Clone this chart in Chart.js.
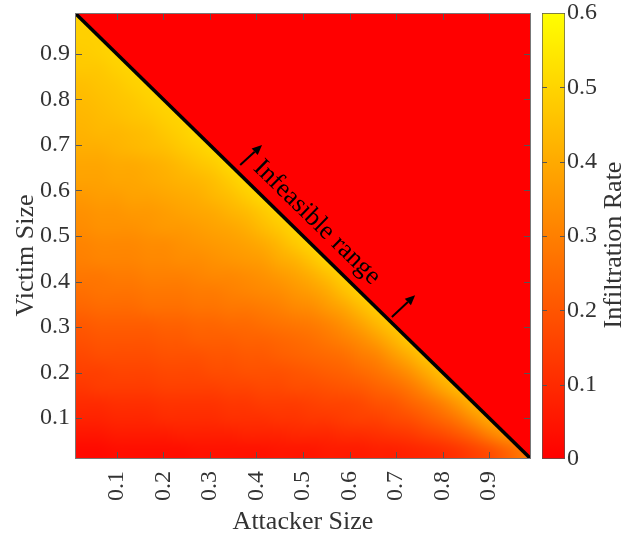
<!DOCTYPE html>
<html><head><meta charset="utf-8">
<script src="https://cdn.jsdelivr.net/npm/chart.js@4.4.1/dist/chart.umd.min.js"></script>
<style>
html,body{margin:0;padding:0;background:#fff;}
#wrap{position:relative;width:628px;height:541px;overflow:hidden;}
#main{position:absolute;left:0;top:0;}
#cbar{position:absolute;left:531px;top:0;}
</style></head><body>
<div id="wrap">
<canvas id="main" width="540" height="541"></canvas>
<canvas id="cbar" width="97" height="541"></canvas>
</div>
<script>
// ---- data (cell centres, 0.035 wide, spanning 0.01 .. 0.99) ----
const attackerSize = [0.0275,0.0625,0.0975,0.1325,0.1675,0.2025,0.2375,0.2725,0.3075,0.3425,0.3775,0.4125,0.4475,0.4825,0.5175,0.5525,0.5875,0.6225,0.6575,0.6925,0.7275,0.7625,0.7975,0.8325,0.8675,0.9025,0.9375,0.9725];
const victimSize   = [0.0275,0.0625,0.0975,0.1325,0.1675,0.2025,0.2375,0.2725,0.3075,0.3425,0.3775,0.4125,0.4475,0.4825,0.5175,0.5525,0.5875,0.6225,0.6575,0.6925,0.7275,0.7625,0.7975,0.8325,0.8675,0.9025,0.9375,0.9725];
// infiltration rate, one row per victim size (feasible part only: attacker + victim <= 1)
const infiltrationRate = [
 [0.02,0.02,0.03,0.03,0.03,0.03,0.03,0.04,0.04,0.04,0.04,0.04,0.05,0.05,0.05,0.06,0.06,0.06,0.07,0.07,0.08,0.09,0.10,0.12,0.15,0.18,0.23,0.28],
 [0.05,0.05,0.06,0.06,0.06,0.06,0.07,0.07,0.07,0.07,0.08,0.08,0.08,0.09,0.09,0.09,0.10,0.10,0.11,0.12,0.13,0.15,0.17,0.20,0.24,0.30,0.35],
 [0.08,0.08,0.09,0.09,0.09,0.10,0.10,0.10,0.10,0.11,0.11,0.11,0.12,0.12,0.13,0.13,0.14,0.15,0.15,0.17,0.18,0.21,0.24,0.28,0.34,0.40],
 [0.10,0.10,0.11,0.11,0.11,0.12,0.12,0.12,0.12,0.13,0.13,0.14,0.14,0.14,0.15,0.16,0.16,0.17,0.19,0.20,0.23,0.26,0.30,0.36,0.42],
 [0.13,0.14,0.14,0.14,0.14,0.15,0.15,0.15,0.15,0.16,0.16,0.17,0.17,0.18,0.18,0.19,0.20,0.21,0.23,0.25,0.28,0.33,0.39,0.44],
 [0.15,0.15,0.16,0.16,0.16,0.17,0.17,0.17,0.18,0.18,0.19,0.19,0.19,0.20,0.21,0.22,0.23,0.25,0.27,0.30,0.34,0.40,0.45],
 [0.17,0.18,0.18,0.18,0.18,0.19,0.19,0.19,0.20,0.20,0.21,0.21,0.22,0.23,0.24,0.25,0.26,0.29,0.31,0.36,0.41,0.46],
 [0.19,0.20,0.20,0.20,0.20,0.21,0.21,0.22,0.22,0.22,0.23,0.23,0.24,0.25,0.26,0.28,0.30,0.33,0.37,0.42,0.47],
 [0.21,0.22,0.22,0.22,0.22,0.23,0.23,0.24,0.24,0.25,0.25,0.26,0.27,0.28,0.29,0.31,0.34,0.38,0.43,0.47],
 [0.24,0.25,0.25,0.25,0.26,0.26,0.26,0.27,0.27,0.28,0.28,0.29,0.30,0.32,0.33,0.36,0.39,0.44,0.48],
 [0.26,0.27,0.27,0.27,0.28,0.28,0.28,0.29,0.29,0.30,0.31,0.32,0.33,0.35,0.37,0.40,0.45,0.49],
 [0.28,0.28,0.29,0.29,0.30,0.30,0.30,0.31,0.32,0.32,0.33,0.34,0.36,0.38,0.41,0.45,0.49],
 [0.30,0.31,0.31,0.31,0.32,0.32,0.33,0.33,0.34,0.35,0.36,0.37,0.40,0.42,0.46,0.50],
 [0.31,0.32,0.32,0.32,0.33,0.33,0.34,0.35,0.36,0.37,0.38,0.40,0.43,0.47,0.50],
 [0.33,0.34,0.34,0.34,0.35,0.36,0.36,0.37,0.38,0.39,0.41,0.44,0.47,0.50],
 [0.34,0.35,0.35,0.36,0.36,0.37,0.38,0.39,0.40,0.42,0.44,0.47,0.50],
 [0.36,0.37,0.37,0.38,0.38,0.39,0.40,0.41,0.43,0.45,0.48,0.51],
 [0.38,0.38,0.39,0.39,0.40,0.41,0.42,0.43,0.45,0.48,0.51],
 [0.39,0.39,0.40,0.40,0.41,0.42,0.44,0.46,0.48,0.51],
 [0.41,0.41,0.42,0.43,0.44,0.45,0.47,0.49,0.51],
 [0.42,0.43,0.43,0.44,0.45,0.47,0.49,0.51],
 [0.43,0.44,0.45,0.46,0.47,0.49,0.50],
 [0.44,0.45,0.46,0.47,0.49,0.50],
 [0.45,0.46,0.47,0.49,0.50],
 [0.47,0.47,0.49,0.50],
 [0.48,0.49,0.50],
 [0.49,0.49],
 [0.49]
];
const infeasibleValue = 0;
const boundaryAttacker = [0.01, 0.99];   // attacker + victim = 1
const boundaryVictim   = [0.99, 0.01];
const xTicks = [0.1,0.2,0.3,0.4,0.5,0.6,0.7,0.8,0.9];
const yTicks = [0.1,0.2,0.3,0.4,0.5,0.6,0.7,0.8,0.9];
const cbTicks = [0,0.1,0.2,0.3,0.4,0.5,0.6];
const rateRange = [0, 0.6];
const noteText = 'Infeasible range';
const notePos = [0.53, 0.53];
const arrowFrom = [[0.365,0.656],[0.691,0.322]];
const arrowTo   = [[0.412,0.700],[0.741,0.370]];

// ---- helpers ----
const SERIF = '"Liberation Serif","Times New Roman",serif';
function rateT(v){ return Math.max(0, Math.min(1, (v - rateRange[0]) / (rateRange[1] - rateRange[0]))); }
function rateColor(v){ return 'rgb(255,' + Math.round(255 * rateT(v)) + ',0)'; }
const fmt = v => (v === 0 ? '0' : v.toFixed(1));
function zeroPad(s){ s.paddingTop = 0; s.paddingBottom = 0; s.paddingLeft = 0; s.paddingRight = 0; }

const cells = [];
infiltrationRate.forEach((row, j) => row.forEach((v, i) => cells.push({x: attackerSize[i], y: victimSize[j], v: v})));
const step = attackerSize[1] - attackerSize[0];

// shading: the heat-map cells are redrawn with smooth (interpolated) shading, like shading interp
const smoothHeat = {
  id: 'smoothHeat',
  afterDatasetDraw(chart, args) {
    if (args.index !== 1) return;
    const {ctx, chartArea: a, scales: {x, y}} = chart;
    const nx = attackerSize.length, ny = victimSize.length;
    const off = document.createElement('canvas');
    off.width = nx + 2; off.height = ny + 2;
    const octx = off.getContext('2d');
    const img = octx.createImageData(nx + 2, ny + 2);
    for (let r = 0; r < ny + 2; r++) {
      const j = Math.min(ny - 1, Math.max(0, ny - r));        // image row r -> victim index
      const row = infiltrationRate[j];
      for (let c = 0; c < nx + 2; c++) {
        const i = Math.min(nx - 1, Math.max(0, c - 1));
        const v = i < row.length ? row[i] : row[row.length - 1];
        const p = (r * (nx + 2) + c) * 4;
        img.data[p] = 255; img.data[p + 1] = Math.round(255 * rateT(v)); img.data[p + 2] = 0; img.data[p + 3] = 255;
      }
    }
    octx.putImageData(img, 0, 0);
    const cw = x.getPixelForValue(attackerSize[1]) - x.getPixelForValue(attackerSize[0]);
    const ch = y.getPixelForValue(victimSize[0]) - y.getPixelForValue(victimSize[1]);
    const dx = x.getPixelForValue(attackerSize[0]) - cw / 2;
    const dy = y.getPixelForValue(victimSize[ny - 1]) - ch / 2;
    ctx.save();
    ctx.beginPath(); ctx.rect(a.left, a.top, a.right - a.left, a.bottom - a.top); ctx.clip();
    ctx.imageSmoothingEnabled = true; ctx.imageSmoothingQuality = 'high';
    ctx.drawImage(off, 1, 1, nx, ny, dx, dy, cw * nx, ch * ny);
    ctx.restore();
  }
};

const frameTicks = {
  id: 'frameTicks',
  afterDatasetsDraw(chart) {
    const {ctx, chartArea: a, scales: {x, y}} = chart;
    ctx.save();
    const ang = Math.atan2(y.getPixelForValue(boundaryVictim[1]) - y.getPixelForValue(boundaryVictim[0]),
                           x.getPixelForValue(boundaryAttacker[1]) - x.getPixelForValue(boundaryAttacker[0]));
    ctx.translate(x.getPixelForValue(notePos[0]), y.getPixelForValue(notePos[1]));
    ctx.rotate(ang);
    ctx.font = '26px ' + SERIF;
    ctx.fillStyle = '#000';
    ctx.textAlign = 'center';
    ctx.textBaseline = 'middle';
    ctx.fillText(noteText, 0, 0);
    ctx.restore();
    ctx.save();
    ctx.strokeStyle = '#000'; ctx.fillStyle = '#000'; ctx.lineWidth = 2;
    arrowFrom.forEach((f, k) => {
      const x0 = x.getPixelForValue(f[0]), y0 = y.getPixelForValue(f[1]);
      const x1 = x.getPixelForValue(arrowTo[k][0]), y1 = y.getPixelForValue(arrowTo[k][1]);
      const th = Math.atan2(y1 - y0, x1 - x0), L = 10, W = 4.5;
      const bx = x1 - L * Math.cos(th), by = y1 - L * Math.sin(th);
      ctx.beginPath(); ctx.moveTo(x0, y0); ctx.lineTo(bx, by); ctx.stroke();
      ctx.beginPath();
      ctx.moveTo(x1, y1);
      ctx.lineTo(bx + W * Math.sin(th), by - W * Math.cos(th));
      ctx.lineTo(bx - W * Math.sin(th), by + W * Math.cos(th));
      ctx.closePath(); ctx.fill();
    });
    ctx.restore();
    ctx.save();
    ctx.strokeStyle = '#555'; ctx.lineWidth = 1;
    ctx.beginPath();
    xTicks.forEach(v => {
      const p = Math.round(x.getPixelForValue(v)) + 0.5;
      ctx.moveTo(p, a.bottom); ctx.lineTo(p, a.bottom - 7);
      ctx.moveTo(p, a.top); ctx.lineTo(p, a.top + 7);
    });
    yTicks.forEach(v => {
      const p = Math.round(y.getPixelForValue(v)) + 0.5;
      ctx.moveTo(a.left, p); ctx.lineTo(a.left + 7, p);
      ctx.moveTo(a.right, p); ctx.lineTo(a.right - 7, p);
    });
    ctx.stroke();
    ctx.strokeStyle = '#777';
    ctx.strokeRect(a.left + 0.5, a.top + 0.5, a.right - a.left - 1, a.bottom - a.top - 1);
    ctx.restore();
  }
};

new Chart(document.getElementById('main'), {
  type: 'scatter',
  data: {
    datasets: [
      {
        type: 'line',
        order: 1,
        data: boundaryAttacker.map((xv, k) => ({x: xv, y: boundaryVictim[k]})),
        borderColor: '#000',
        borderWidth: 3.5,
        pointRadius: 0,
        fill: 'end',
        backgroundColor: rateColor(infeasibleValue),
        showLine: true
      },
      {
        order: 2,
        data: cells,
        pointStyle: 'rect',
        radius: ctx => {
          const c = ctx.chart, sx = c.scales.x, sy = c.scales.y;
          if (!sx || !sy) return 8;
          const w = Math.abs(sx.getPixelForValue(step) - sx.getPixelForValue(0));
          const h = Math.abs(sy.getPixelForValue(step) - sy.getPixelForValue(0));
          const r = (Math.max(w, h) + 1) / Math.SQRT2;
          return isFinite(r) ? r : 8;
        },
        borderWidth: 0,
        backgroundColor: ctx => ctx.raw ? rateColor(ctx.raw.v) : '#f00'
      }
    ]
  },
  options: {
    responsive: false,
    animation: false,
    devicePixelRatio: 1,
    layout: {padding: {left: 0, top: 13, right: 9, bottom: 0}},
    plugins: {legend: {display: false}, tooltip: {enabled: false}},
    scales: {
      x: {
        type: 'linear', min: 0.01, max: 0.99,
        afterBuildTicks: s => { s.ticks = xTicks.map(v => ({value: v})); },
        afterFit: s => { s.height = 82; zeroPad(s); },
        grid: {display: false, drawTicks: false}, border: {display: false},
        ticks: {font: {family: SERIF, size: 24}, color: '#333', minRotation: 90, maxRotation: 90, padding: 12, callback: v => fmt(v)},
        title: {display: true, text: 'Attacker Size', font: {family: SERIF, size: 26}, color: '#333', padding: {top: 0, bottom: 3}}
      },
      y: {
        type: 'linear', min: 0.01, max: 0.99,
        afterBuildTicks: s => { s.ticks = yTicks.map(v => ({value: v})); },
        afterFit: s => { s.width = 75; zeroPad(s); },
        grid: {display: false, drawTicks: false}, border: {display: false},
        ticks: {font: {family: SERIF, size: 24}, color: '#333', padding: 5, callback: v => fmt(v)},
        title: {display: true, text: 'Victim Size      ', font: {family: SERIF, size: 26}, color: '#333', padding: {top: 11, bottom: 0}}
      }
    }
  },
  plugins: [smoothHeat, frameTicks]
});

// ---- colour bar ----
const cbDecor = {
  id: 'cbDecor',
  afterDatasetsDraw(chart) {
    const {ctx, chartArea: a, scales: {y}} = chart;
    ctx.save();
    ctx.strokeStyle = '#555'; ctx.lineWidth = 1;
    ctx.beginPath();
    cbTicks.forEach(v => {
      if (v === rateRange[0] || v === rateRange[1]) return;
      const p = Math.round(y.getPixelForValue(v)) + 0.5;
      ctx.moveTo(a.left, p); ctx.lineTo(a.left + 5, p);
      ctx.moveTo(a.right, p); ctx.lineTo(a.right - 5, p);
    });
    ctx.stroke();
    ctx.translate(a.right + 49, (a.top + a.bottom) / 2 + 9);
    ctx.rotate(-Math.PI / 2);
    ctx.font = '26px ' + SERIF;
    ctx.fillStyle = '#333';
    ctx.textAlign = 'center';
    ctx.textBaseline = 'middle';
    ctx.fillText('Infiltration Rate', 0, 0);
    ctx.restore();
  }
};

new Chart(document.getElementById('cbar'), {
  type: 'bar',
  data: {
    labels: ['rate'],
    datasets: [{
      data: [rateRange],
      backgroundColor: ctx => {
        const c = ctx.chart, area = c.chartArea;
        if (!area || !isFinite(area.top) || !isFinite(area.bottom)) return rateColor(rateRange[0]);
        const g = c.ctx.createLinearGradient(0, area.bottom, 0, area.top);
        g.addColorStop(0, rateColor(rateRange[0]));
        g.addColorStop(1, rateColor(rateRange[1]));
        return g;
      },
      borderColor: '#555',
      borderWidth: 1,
      borderSkipped: false,
      barPercentage: 1,
      categoryPercentage: 1
    }]
  },
  options: {
    responsive: false,
    animation: false,
    devicePixelRatio: 1,
    layout: {padding: {left: 11, top: 13, right: 0, bottom: 82}},
    plugins: {legend: {display: false}, tooltip: {enabled: false}},
    scales: {
      x: {display: false},
      y: {
        position: 'right', min: rateRange[0], max: rateRange[1],
        afterBuildTicks: s => { s.ticks = cbTicks.map(v => ({value: v})); },
        afterFit: s => { s.width = 63; zeroPad(s); },
        grid: {display: false, drawTicks: false}, border: {display: false},
        ticks: {font: {family: SERIF, size: 24}, color: '#333', padding: 2, callback: v => fmt(v)}
      }
    }
  },
  plugins: [cbDecor]
});
</script>
</body></html>
